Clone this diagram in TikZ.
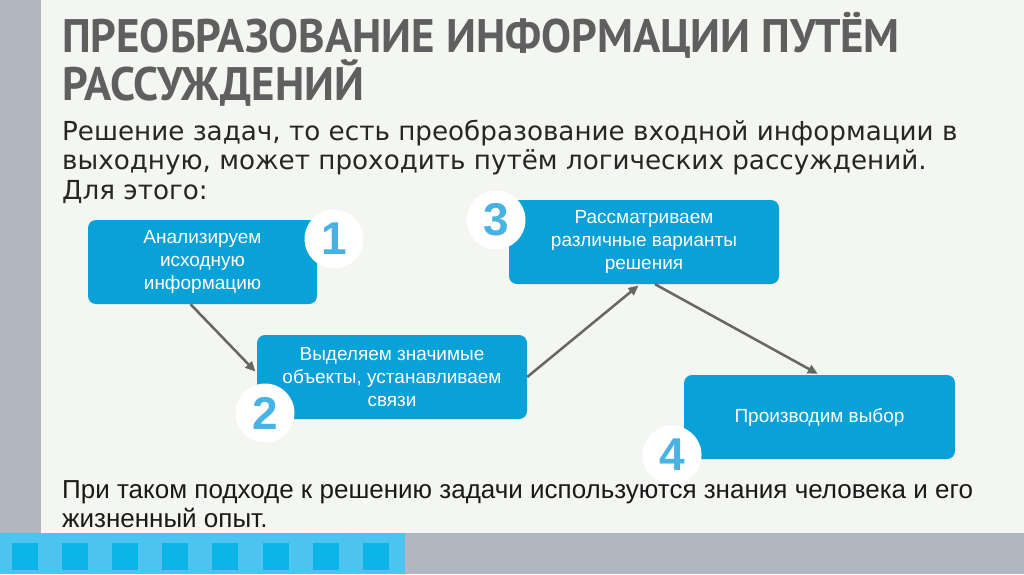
\documentclass[tikz,border=0pt]{standalone}
\usepackage{fontspec}
\setmainfont{Liberation Sans}
\newfontfamily\titlefont[FakeStretch=0.955]{PT Sans}
\newfontfamily\leadfont{DejaVu Sans}
\usepackage{tikz}
\usetikzlibrary{arrows.meta, positioning, calc}
\definecolor{slidebg}{RGB}{244, 246, 241}
\definecolor{sidegray}{RGB}{176, 183, 193}
\definecolor{stepblue}{RGB}{10, 160, 216}
\definecolor{stripblue}{RGB}{77, 195, 239}
\definecolor{squareblue}{RGB}{11, 181, 232}
\definecolor{numblue}{RGB}{72, 178, 229}
\definecolor{titlegray}{RGB}{95, 95, 95}
\definecolor{arrowgray}{RGB}{102, 102, 102}

\begin{document}
\begin{tikzpicture}[
    x=1pt, y=-1pt,
    stepbox/.style={rectangle, rounded corners=8pt, fill=stepblue, text=white, align=center,
        minimum width=270pt, minimum height=84pt, font=\fontsize{19}{23}\selectfont},
    numdisc/.style={circle, fill=white, minimum size=59pt, inner sep=0pt, text=numblue,
        font=\fontsize{46}{46}\selectfont\bfseries},
    flow/.style={-{Triangle[length=10pt, width=9pt]}, line width=2.5pt, arrowgray, shorten >=2pt}
]
    % Slide background
    \useasboundingbox (0, 0) rectangle (1024, 574);
    \fill[slidebg] (0, 0) rectangle (1024, 574);
    \fill[sidegray] (0, 0) rectangle (41, 533);
    \fill[sidegray] (405, 533) rectangle (1024, 574);
    \fill[stripblue] (0, 533) rectangle (405, 574);
    \foreach \i in {0, ..., 7}
        \fill[squareblue] (12 + 50.1*\i, 543) rectangle ++(26, 27);

    % Title and text (anchored at the last line)
    \node[anchor=base west, align=left, inner sep=0pt, text=titlegray,
        font=\titlefont\fontsize{47}{46}\selectfont\bfseries] (title) at (62, 100)
        {ПРЕОБРАЗОВАНИЕ ИНФОРМАЦИИ ПУТЁМ\\РАССУЖДЕНИЙ};
    \node[anchor=base west, align=left, inner sep=0pt, text=black!85,
        font=\leadfont\fontsize{26.2}{29.5}\selectfont] (lead) at (62, 199)
        {Решение задач, то есть преобразование входной информации в\\
         выходную, может проходить путём логических рассуждений.\\
         Для этого:};
    \node[anchor=base west, align=left, inner sep=0pt, text=black!90,
        font=\fontsize{26}{29.5}\selectfont] (outro) at (62, 527.5)
        {При таком подходе к решению задачи используются знания человека и его\\
         жизненный опыт.};

    % Steps
    \node[stepbox, minimum width=229pt] (analyse) at (202.5, 262) {Анализируем\\исходную\\информацию};
    \node[stepbox] (select) at (392, 377) {Выделяем значимые\\объекты, устанавливаем\\связи};
    \node[stepbox] (variants) at (644, 242) {Рассматриваем\\различные варианты\\решения};
    \node[stepbox, minimum width=271pt] (choice) at (819.5, 417) {Производим выбор};

    % Numbers
    \node[numdisc] (n1) at (334, 239) {1};
    \node[numdisc] (n2) at (265, 413) {2};
    \node[numdisc] (n3) at (496, 220) {3};
    \node[numdisc] (n4) at (672, 455) {4};

    % Arrows
    \draw[flow] ([xshift=-12pt]analyse.south) -- ([yshift=4pt]select.west);
    \draw[flow] (select.east) -- ([xshift=-4pt]variants.south);
    \draw[flow] ([xshift=11pt]variants.south) -- (choice.north);
\end{tikzpicture}
\end{document}
